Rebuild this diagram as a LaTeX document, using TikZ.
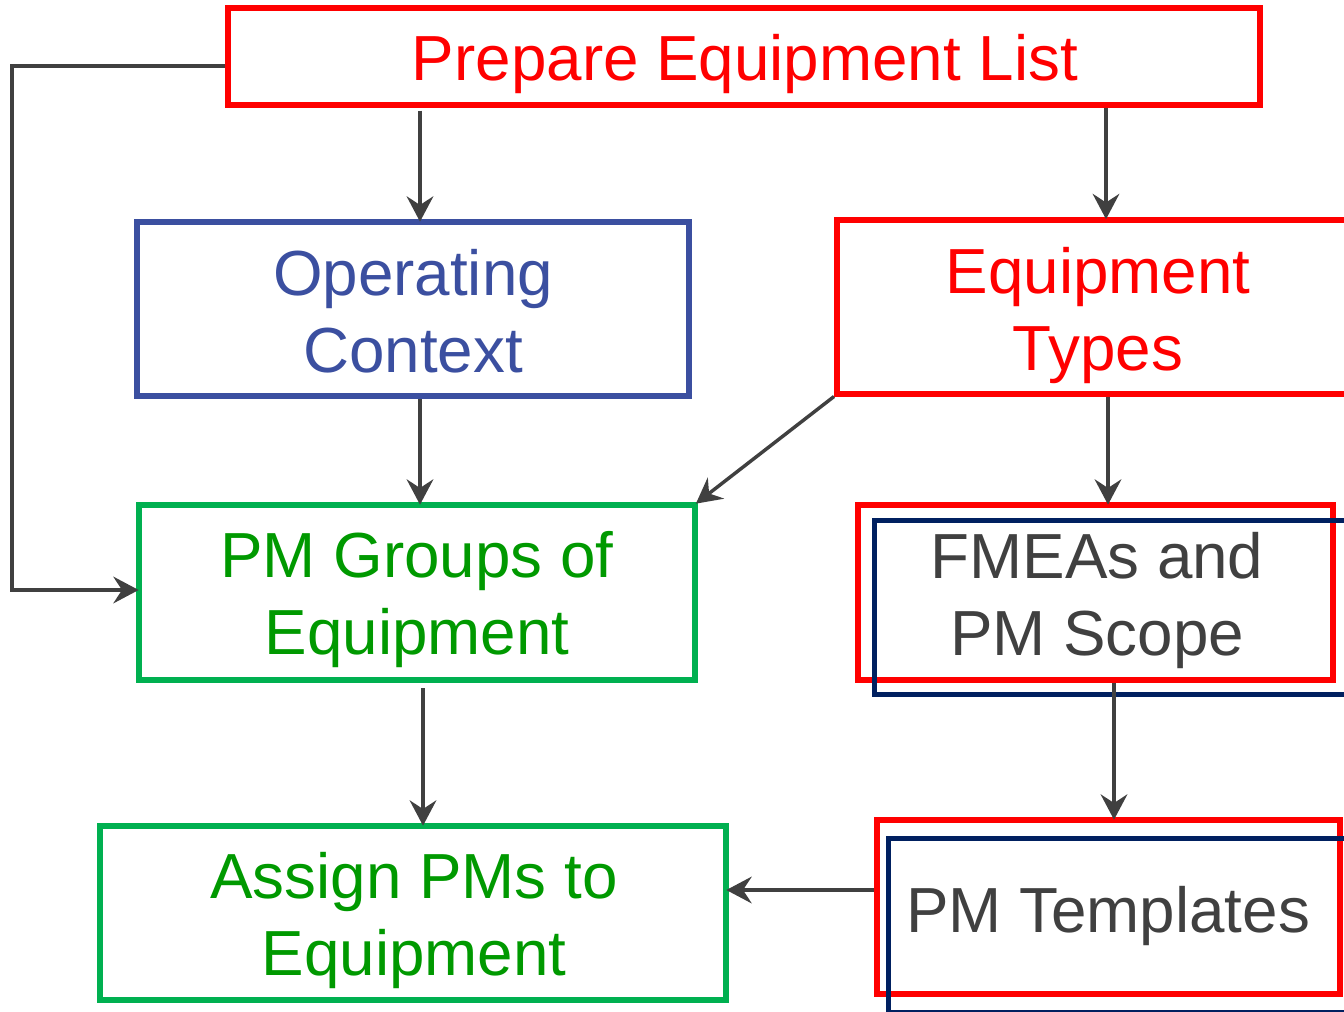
\documentclass[tikz,border=0pt]{standalone}
\usepackage{fontspec}
\setmainfont{Liberation Sans}
\usetikzlibrary{arrows.meta}
\definecolor{boxred}{HTML}{FF0000}
\definecolor{boxblue}{HTML}{3B4FA0}
\definecolor{boxgreen}{HTML}{00B050}
\definecolor{txtgreen}{HTML}{009900}
\definecolor{boxnavy}{HTML}{002060}
\definecolor{ink}{HTML}{404040}
\tikzset{
  box/.style={draw, rectangle, inner sep=0pt, line width=4.5pt},
  navybox/.style={draw=boxnavy, rectangle, inner sep=0pt, line width=3.75pt},
  % base anchor sits on the baseline of the last line
  lbl/.style={inner sep=0pt, align=center, anchor=base,
    font=\fontsize{47.8pt}{57.75pt}\selectfont},
  arr/.style={draw=ink, line width=2.6pt, shorten >=-2pt,
    -{Stealth[length=19pt, width=20pt, inset=6.5pt]}},
}
\begin{document}
\begin{tikzpicture}[x=0.75pt, y=-0.75pt]
\clip (0,0) rectangle (1344,1011);

% boxes
\node[box, draw=boxred, minimum width=774pt, minimum height=72.75pt] (list) at (744,56.5) {};
\node[box, draw=boxblue, minimum width=414pt, minimum height=130.5pt] (op) at (413,309) {};
\node[box, draw=boxred, minimum width=393.75pt, minimum height=130.5pt] (types) at (1099.5,306.5) {};
\node[box, draw=boxgreen, minimum width=417pt, minimum height=131.25pt] (groups) at (417,592.5) {};
\node[box, draw=boxred, minimum width=356.25pt, minimum height=131.25pt] (fmea) at (1095.5,592.5) {};
\node[navybox, minimum width=367.9pt, minimum height=130.5pt] (fmeaN) at (1119.75,607.5) {};
\node[box, draw=boxgreen, minimum width=469.5pt, minimum height=130.5pt] (assign) at (413,913) {};
\node[box, draw=boxred, minimum width=347.25pt, minimum height=130.1pt] (tmpl) at (1108.5,906.75) {};
\node[navybox, minimum width=361.1pt, minimum height=130.5pt] (tmplN) at (1129.25,925.5) {};

% labels
\node[lbl, text=boxred] (tList) at (745,80) {Prepare Equipment List};
\node[lbl, text=boxblue] (tOp) at (413,372) {Operating\\Context};
\node[lbl, text=boxred] (tTypes) at (1098,370) {Equipment\\Types};
\node[lbl, text=txtgreen] (tGroups) at (417,654) {PM Groups of\\Equipment};
\node[lbl, text=ink] (tFmea) at (1097,655) {FMEAs and\\PM Scope};
\node[lbl, text=txtgreen] (tAssign) at (414,975) {Assign PMs to\\Equipment};
\node[lbl, text=ink] (tTmpl) at (1108,932) {PM Templates};

% connector guide coordinates
\coordinate (xOp) at (420,0);
\coordinate (xTypes) at (1106,0);
\coordinate (xFmea) at (1108,0);
\coordinate (xTmpl) at (1114,0);
\coordinate (xAssign) at (423,0);
\coordinate (loopTop) at (12,66);
\coordinate (loopBot) at (12,590);
\coordinate (yRow) at (0,890);

% connectors
\draw[arr, shorten <=2pt] (list.south -| xOp) -- (op.north -| xOp);
\draw[arr] (list.south -| xTypes) -- (types.north -| xTypes);
\draw[arr] (list.west |- loopTop) -- (loopTop) -- (loopBot) -- (groups.west |- loopBot);
\draw[arr] (op.south -| xOp) -- (groups.north -| xOp);
\draw[arr] (types.south west) -- (groups.north east);
\draw[arr] (types.south -| xFmea) -- (fmea.north -| xFmea);
\draw[arr] (fmea.south -| xTmpl) -- (tmpl.north -| xTmpl);
\draw[arr, shorten <=4pt] (groups.south -| xAssign) -- (assign.north -| xAssign);
\draw[arr] (tmpl.west |- yRow) -- (assign.east |- yRow);
\end{tikzpicture}
\end{document}
